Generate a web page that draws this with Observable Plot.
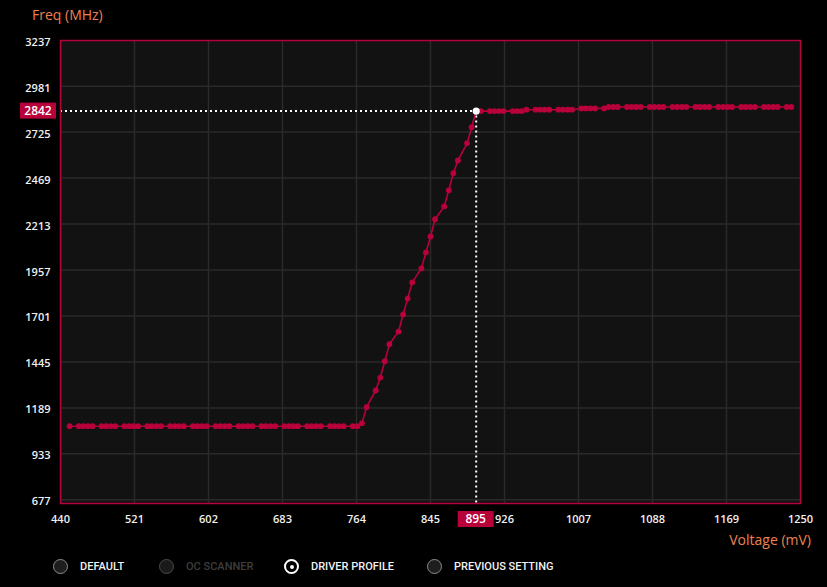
<!DOCTYPE html>
<html>
<head>
<meta charset="utf-8">
<script src="https://cdn.jsdelivr.net/npm/d3@7"></script>
<script src="https://cdn.jsdelivr.net/npm/@observablehq/plot@0.6"></script>
<style>
html, body { margin: 0; padding: 0; background: #000; }
#wrap { position: relative; width: 827px; height: 587px; overflow: hidden; background: #000; font-family: "Open Sans", sans-serif; }
#chart { position: absolute; left: 0; top: 0; }
.axlabel { position: absolute; color: #ef8150; font-size: 14px; line-height: 1; white-space: nowrap; }
#ytitle { left: 32px; top: 8px; }
#xtitle { right: 16px; top: 533px; }
.leg { position: absolute; top: 559px; height: 15px; display: flex; align-items: center; font-family: Roboto, sans-serif; font-size: 11px; font-weight: 500; color: #f2f2f2; white-space: nowrap; }
.leg .c { box-sizing: border-box; width: 15px; height: 15px; border-radius: 50%; border: 1.5px solid #8c8c8c; background: #1e1e1e; margin-right: 12px; position: relative; }
.leg.dim { color: #3d3d3d; }
.leg.dim .c { border-color: #4a4a4a; background: #1a1a1a; }
.leg.sel .c { border: 2px solid #fff; background: #000; }
.leg.sel .c::after { content: ""; position: absolute; left: 3.5px; top: 3.5px; width: 4px; height: 4px; border-radius: 50%; background: #fff; }
</style>
</head>
<body>
<div id="wrap">
  <div id="chart"></div>
  <div class="axlabel" id="ytitle">Freq (MHz)</div>
  <div class="axlabel" id="xtitle">Voltage (mV)</div>
  <div id="legend"></div>
</div>
<script>
// ---- data ----
const xTicks = [440, 521, 602, 683, 764, 845, 926, 1007, 1088, 1169, 1250];
const yTicks = [677, 933, 1189, 1445, 1701, 1957, 2213, 2469, 2725, 2981, 3237];

const voltage = [
  450,
  460, 465, 470, 475, 485, 490, 495, 500, 510, 515, 520, 525,
  535, 540, 545, 550, 560, 565, 570, 575, 585, 590, 595, 600,
  610, 615, 620, 625, 635, 640, 645, 650, 660, 665, 670, 675,
  685, 690, 695, 700, 710, 715, 720, 725, 735, 740, 745, 750,
  760, 765,
  770, 775, 785, 790, 795, 800, 810, 815, 820, 825, 835, 840,
  845, 850, 860, 865, 870, 875, 885, 890, 895,
  900, 910, 915, 920, 925, 935, 940, 945,
  950, 960, 965, 970, 975, 985, 990, 995, 1000,
  1010, 1015, 1020, 1025, 1035,
  1040, 1045, 1050, 1060, 1065, 1070, 1075, 1085, 1090, 1095, 1100,
  1110, 1115, 1120, 1125, 1135, 1140, 1145, 1150, 1160, 1165, 1170, 1175,
  1185, 1190, 1195, 1200, 1210, 1215, 1220, 1225, 1235, 1240
];
const freq = [
  1087,
  1087, 1087, 1087, 1087, 1087, 1087, 1087, 1087, 1087, 1087, 1087, 1087,
  1087, 1087, 1087, 1087, 1087, 1087, 1087, 1087, 1087, 1087, 1087, 1087,
  1087, 1087, 1087, 1087, 1087, 1087, 1087, 1087, 1087, 1087, 1087, 1087,
  1087, 1087, 1087, 1087, 1087, 1087, 1087, 1087, 1087, 1087, 1087, 1087,
  1087, 1087,
  1104, 1193, 1286, 1358, 1449, 1544, 1614, 1709, 1798, 1888, 1966, 2055,
  2144, 2240, 2311, 2401, 2496, 2567, 2663, 2752, 2842,
  2842, 2842, 2842, 2842, 2842, 2842, 2842, 2842,
  2850, 2850, 2850, 2850, 2850, 2850, 2850, 2850, 2850,
  2857, 2857, 2857, 2857, 2857,
  2865, 2865, 2865, 2865, 2865, 2865, 2865, 2865, 2865, 2865, 2865,
  2865, 2865, 2865, 2865, 2865, 2865, 2865, 2865, 2865, 2865, 2865, 2865,
  2865, 2865, 2865, 2865, 2865, 2865, 2865, 2865, 2865, 2865
];
const selVoltage = 895;
const selFreq = 2842;
const legendLabels = ["DEFAULT", "OC SCANNER", "DRIVER PROFILE", "PREVIOUS SETTING"];
const legendState = ["normal", "dim", "sel", "normal"];
const legendLeft = [53, 159, 284, 427];

// ---- drawing ----
const RED = "#b8003a";
const GRID = "#2a2a2a";
const pts = voltage.map((v, i) => ({v, f: freq[i]}));
const plain = d => String(d);

const chart = Plot.plot({
  width: 827,
  height: 587,
  marginLeft: 60,
  marginRight: 27,
  marginTop: 40,
  marginBottom: 84,
  style: {background: "transparent", color: "#f0f0f0", fontFamily: "'Open Sans', sans-serif", fontSize: "11px", fontWeight: 600},
  x: {domain: [xTicks[0], xTicks[xTicks.length - 1]], range: [60, 800]},
  y: {domain: [yTicks[0], yTicks[yTicks.length - 1]], range: [499.3, 39.7]},
  marks: [
    Plot.frame({fill: "#121212", stroke: null}),
    Plot.gridX(xTicks.slice(1, -1), {stroke: GRID, strokeOpacity: 1, strokeWidth: 1.5}),
    Plot.gridY(yTicks.slice(0, -1), {stroke: GRID, strokeOpacity: 1, strokeWidth: 1.5}),
    Plot.axisX(xTicks, {tickSize: 0, tickPadding: 12, label: null, fill: "#f0f0f0", tickFormat: plain}),
    Plot.axisY(yTicks, {tickSize: 0, tickPadding: 10, dy: 2, label: null, fill: "#f0f0f0", tickFormat: plain}),
    Plot.ruleY([selFreq], {x1: xTicks[0], x2: selVoltage, stroke: "#fff", strokeWidth: 2, strokeDasharray: "2,3"}),
    Plot.ruleX([selVoltage], {y1: selFreq, y2: yTicks[0], insetBottom: -3.7, stroke: "#fff", strokeWidth: 2, strokeDasharray: "2,3"}),
    Plot.line(pts, {x: "v", y: "f", stroke: RED, strokeWidth: 1.6}),
    Plot.dot(pts, {x: "v", y: "f", r: 2.9, fill: RED, stroke: null}),
    Plot.dot([{v: selVoltage, f: selFreq}], {x: "v", y: "f", r: 3.6, fill: "#fff", stroke: null}),
    Plot.frame({stroke: RED, strokeWidth: 1.5})
  ]
});
document.getElementById("chart").appendChild(chart);

// highlighted value badges, placed through the plot's scales
const sx = chart.scale("x"), sy = chart.scale("y");
const svg = d3.select(chart);
const yb = sy.apply(selFreq);
svg.append("rect").attr("x", 20).attr("y", yb - 8).attr("width", 36).attr("height", 16).attr("fill", RED);
svg.append("text").attr("x", 38).attr("y", yb).attr("dy", "0.35em").attr("text-anchor", "middle")
  .attr("fill", "#fff").attr("font-size", 12).attr("font-weight", 600).attr("font-family", "'Open Sans', sans-serif")
  .text(selFreq);
const xb = sx.apply(selVoltage);
svg.append("rect").attr("x", xb - 18).attr("y", 511).attr("width", 36).attr("height", 16).attr("fill", RED);
svg.append("text").attr("x", xb).attr("y", 519).attr("dy", "0.35em").attr("text-anchor", "middle")
  .attr("fill", "#fff").attr("font-size", 12).attr("font-weight", 600).attr("font-family", "'Open Sans', sans-serif")
  .text(selVoltage);

// legend
const leg = document.getElementById("legend");
legendLabels.forEach((lab, i) => {
  const d = document.createElement("div");
  d.className = "leg" + (legendState[i] === "dim" ? " dim" : legendState[i] === "sel" ? " sel" : "");
  d.style.left = legendLeft[i] + "px";
  const c = document.createElement("div");
  c.className = "c";
  d.appendChild(c);
  const t = document.createElement("span");
  t.textContent = lab;
  d.appendChild(t);
  leg.appendChild(d);
});
</script>
</body>
</html>
